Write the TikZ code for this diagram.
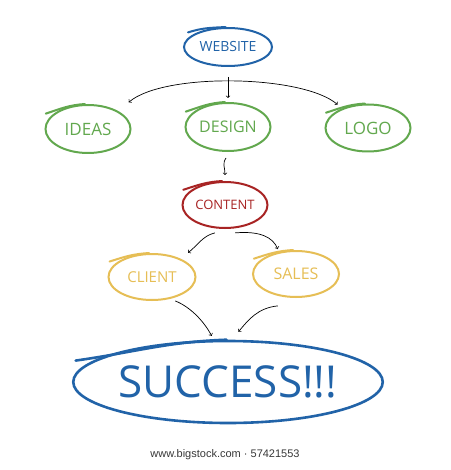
\documentclass[tikz,border=0pt]{standalone}
\usepackage{fontspec}
\setmainfont{Open Sans}
\newfontfamily\footfont{Liberation Sans}
\usetikzlibrary{arrows,shapes.geometric,calc}
\definecolor{inkblue}{RGB}{33,99,168}
\definecolor{inkgreen}{RGB}{98,168,78}
\definecolor{inkred}{RGB}{168,36,36}
\definecolor{inkgold}{RGB}{230,190,85}
\tikzset{bubble/.style={ellipse, draw, line width=2pt, inner sep=0pt}, link/.style={black, line width=0.7pt, >=to}, tail/.style={line width=2pt, line cap=round}}

\begin{document}
\begin{tikzpicture}[x=1pt,y=-1pt]
\useasboundingbox[fill=white] (0,0) rectangle (450,470);
\node[bubble,inkblue,minimum width=88,minimum height=38] (website) at (228,47) {\fontsize{14}{14}\selectfont WEBSITE};
\node[bubble,inkgreen,minimum width=85,minimum height=48] (ideas) at (88,129) {\fontsize{17}{17}\selectfont IDEAS};
\node[bubble,inkgreen,minimum width=85,minimum height=48] (design) at (228,127) {\fontsize{16}{16}\selectfont DESIGN};
\node[bubble,inkgreen,minimum width=85,minimum height=47] (logo) at (368,128) {\fontsize{17}{17}\selectfont LOGO};
\node[bubble,inkred,minimum width=85,minimum height=46] (content) at (225,205) {\fontsize{13}{13}\selectfont CONTENT};
\node[bubble,inkgold,minimum width=87,minimum height=46] (client) at (152,277) {\fontsize{15}{15}\selectfont CLIENT};
\node[bubble,inkgold,minimum width=86,minimum height=46] (sales) at (296,274) {\fontsize{16}{16}\selectfont SALES};
\node[bubble,inkblue,line width=2.6pt,minimum width=306,minimum height=82] (success) at (228,382) {\fontsize{44}{44}\selectfont SUCCESS!!!};
% overshooting pen strokes
\draw[tail,inkblue] ($(website.center)!1.15!(website.160)$) to[out=18,in=183] (website.97);
\draw[tail,inkgreen] ($(ideas.center)!1.15!(ideas.160)$) to[out=18,in=183] (ideas.97);
\draw[tail,inkgreen] ($(design.center)!1.15!(design.160)$) to[out=18,in=183] (design.97);
\draw[tail,inkgreen] ($(logo.center)!1.15!(logo.160)$) to[out=18,in=183] (logo.97);
\draw[tail,inkred] ($(content.center)!1.15!(content.160)$) to[out=18,in=183] (content.97);
\draw[tail,inkgold] ($(client.center)!1.15!(client.160)$) to[out=18,in=183] (client.97);
\draw[tail,inkgold] ($(sales.center)!1.15!(sales.160)$) to[out=18,in=183] (sales.97);
\draw[tail,inkblue,line width=2.6pt] ($(success.center)!1.1!(success.172)$) to[out=8,in=182] (success.92);
% connectors
\draw[link,->] ([yshift=-10pt]website.south) -- ([yshift=4pt]design.north);
\draw[link,<->] ([shift={(19,-5)}]ideas.45) .. controls +(35,-30) and +(-35,-30) .. ([shift={(-9,-2)}]logo.135);
\draw[link,->] ([shift={(-2,6)}]design.south) .. controls +(-4,6) and +(0,-8) .. ([yshift=6pt]content.north);
\draw[link,->] ([shift={(3,5)}]content.240) .. controls +(-12,3) and +(10,-8) .. ([shift={(12,-4)}]client.40);
\draw[link,->] ([shift={(-3,5)}]content.300) .. controls +(25,-2) and +(-5,-12) .. ([shift={(-5,-2)}]sales.120);
\draw[link,->] ([shift={(10,1)}]client.300) .. controls +(15,6) and +(-8,-15) .. ([shift={(-1,-4)}]success.110);
\draw[link,->] ([shift={(-5,9)}]sales.240) .. controls +(-20,2) and +(10,-12) .. ([shift={(3,-8)}]success.80);
\node[text=black!78,font=\footfont\fontsize{11}{11}\selectfont] (footer) at (225,455) {www.bigstock.com · 57421553};
\end{tikzpicture}
\end{document}
